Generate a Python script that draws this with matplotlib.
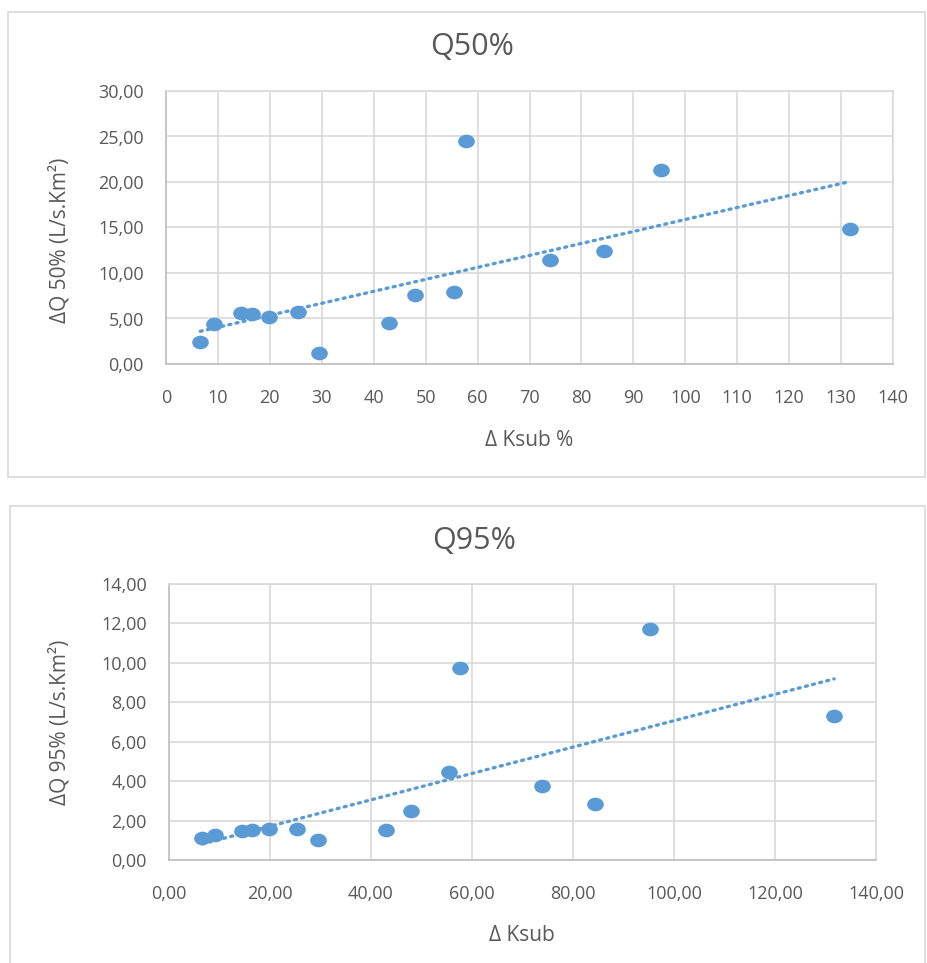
import numpy as np
import matplotlib
import matplotlib.pyplot as plt
from matplotlib.path import Path
from matplotlib.patches import Rectangle
from matplotlib.ticker import FuncFormatter

plt.rcParams['font.family'] = ['Open Sans', 'DejaVu Sans']

# valores
ksub = [6.6, 9.2, 14.5, 16.5, 19.8, 25.4, 29.5, 43.0, 48.0, 55.5, 57.7, 73.9, 84.4, 95.3, 131.7]
dq50 = [2.4, 4.4, 5.6, 5.5, 5.2, 5.7, 1.2, 4.5, 7.6, 7.9, 24.5, 11.4, 12.4, 21.3, 14.8]
dq95 = [1.1, 1.25, 1.45, 1.5, 1.55, 1.55, 1.0, 1.5, 2.5, 4.45, 9.75, 3.75, 2.85, 11.7, 7.3]

BLUE = '#5B9BD5'
GRID = '#D9D9D9'
TXT = '#595959'

# marcador elíptico estilo Excel
circ = Path.unit_circle()
ellipse = Path(circ.vertices * np.array([1.22, 1.0]), circ.codes)


def comma(dec):
    return FuncFormatter(lambda v, _: f"{v:.{dec}f}".replace('.', ','))


def draw_panel(fig, rect, x, y, title, xlabel, ylabel, xmax, xstep, ymax, ystep, xdec,
               title_xy, xlabel_xy, ylabel_xy):
    ax = fig.add_axes(rect)
    x = np.asarray(x)
    y = np.asarray(y)
    slope, inter = np.polyfit(x, y, 1)
    xt = np.array([x.min(), x.max()])
    ax.plot(xt, slope * xt + inter, linestyle=(0, (0.6, 1.6)), dash_capstyle='round',
            color=BLUE, lw=2.4, zorder=2)
    ax.plot(x, y, linestyle='none', marker=ellipse, markersize=12, color=BLUE,
            markeredgewidth=0, zorder=3)
    ax.set_xlim(0, xmax)
    ax.set_ylim(0, ymax)
    ax.set_xticks(np.arange(0, xmax + 0.1, xstep))
    ax.set_yticks(np.arange(0, ymax + 0.1, ystep))
    ax.xaxis.set_major_formatter(comma(xdec))
    ax.yaxis.set_major_formatter(comma(2))
    ax.grid(True, color=GRID, lw=1.2)
    ax.set_axisbelow(True)
    for s in ax.spines.values():
        s.set_color(GRID)
        s.set_linewidth(1.2)
    ax.spines['left'].set_color('#BFBFBF')
    ax.spines['bottom'].set_color('#BFBFBF')
    ax.tick_params(length=0, labelsize=13, colors=TXT)
    ax.tick_params(axis='x', pad=18)
    ax.tick_params(axis='y', pad=16)
    fig.text(*title_xy, title, fontsize=22, color=TXT, ha='center', va='center')
    fig.text(*xlabel_xy, xlabel, fontsize=15, color=TXT, ha='center', va='center')
    fig.text(*ylabel_xy, ylabel, fontsize=15, color=TXT, ha='center', va='center',
             rotation=90)
    return ax


W, H = 927, 963
fig = plt.figure(figsize=(W / 100, H / 100), dpi=100)

# moldura dos dois gráficos
fig.patches.append(Rectangle((8 / W, 1 - 477 / H), 917 / W, 465 / H, transform=fig.transFigure,
                             fill=False, edgecolor=GRID, lw=1.2))
fig.patches.append(Rectangle((10 / W, 1 - 975 / H), 915 / W, 469 / H, transform=fig.transFigure,
                             fill=False, edgecolor=GRID, lw=1.2))

draw_panel(fig, [166 / W, 1 - 364 / H, 727 / W, 273 / H], ksub, dq50,
           'Q50%', 'Δ Ksub %', 'ΔQ 50% (L/s.Km²)', 140, 10, 30, 5, 0,
           (472 / W, 1 - 47 / H), (529 / W, 1 - 440 / H), (60 / W, 1 - 240 / H))

draw_panel(fig, [169 / W, 1 - 860 / H, 707 / W, 276 / H], ksub, dq95,
           'Q95%', 'Δ Ksub', 'ΔQ 95% (L/s.Km²)', 140, 20, 14, 2, 2,
           (474 / W, 1 - 541 / H), (522 / W, 1 - 935 / H), (60 / W, 1 - 722 / H))

fig.savefig('out.png', dpi=100)
